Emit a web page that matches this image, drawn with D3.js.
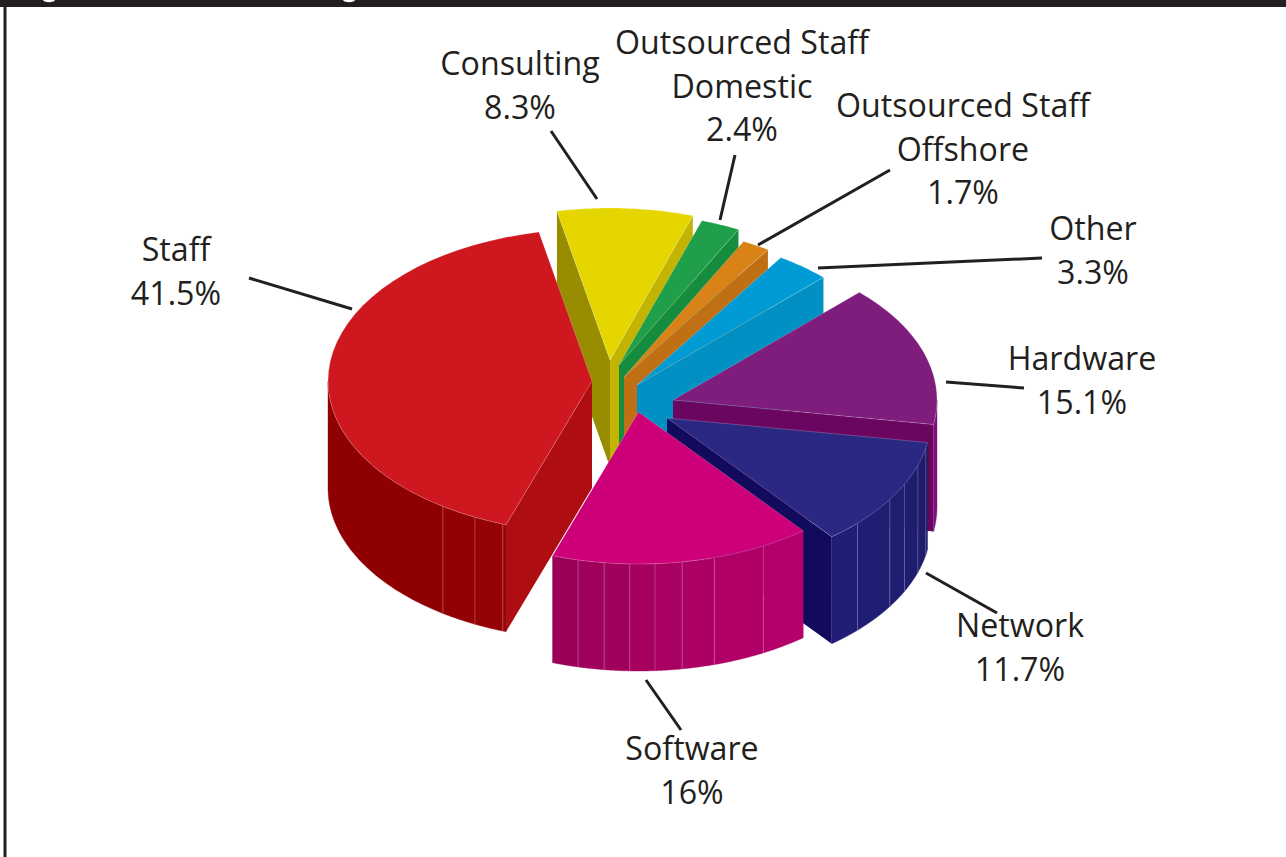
<!DOCTYPE html>
<html><head><meta charset="utf-8">
<script src="https://cdn.jsdelivr.net/npm/d3@7"></script>
<style>html,body{margin:0;padding:0;background:#fff;overflow:hidden}svg{display:block}</style>
</head><body><div id="chart"></div>
<script>
// Data
const categories = ["Staff","Consulting","Outsourced Staff Domestic","Outsourced Staff Offshore","Other","Hardware","Network","Software"];
const values = [41.5,8.3,2.4,1.7,3.3,15.1,11.7,16];
const valueLabels = ["41.5%","8.3%","2.4%","1.7%","3.3%","15.1%","11.7%","16%"];
const labelLines = [["Staff"],["Consulting"],["Outsourced Staff","Domestic"],["Outsourced Staff","Offshore"],["Other"],["Hardware"],["Network"],["Software"]];

// Styles and layout
const topColors = ["#ce171e","#e5d600","#1f9f49","#d88218","#009bd4","#7f1d7d","#2b2883","#cd007a"];
const startWall = ["#ae0d12","#988d00","#168d3e","#c07014","#0090c4","#6a0560","#120a5c","#a3005f"];
const endWall   = ["#ae0d12","#c2b400","#168d3e","#c07014","#0090c4","#6a0560","#120a5c","#a3005f"];
const outerFrom = ["#980508","#988d00","#168d3e","#c07014","#0090c4","#7f1080","#1d1b6b","#b4006b"];
const outerTo   = ["#8f0002","#988d00","#168d3e","#c07014","#0090c4","#7f1080","#211f75","#9b0058"];
const facetFractions = [[0.005,0.049,0.103],[],[],[],[],[],[0.05,0.21,0.395,0.55,0.82],[0.18,0.38,0.505,0.608,0.703,0.80,0.90]];
const tipX = [592,610,619,624,637,673,667,638.5];
const tipY = [381,360,365,377,385,400,418,412];
const labelAnchors = [[176,261],[520,75],[742,54],[963,117],[1093,240],[1082,370],[1020,637],[692,760]];
const leaders = [[249,278,352,309],[551,131,597,199],[735,155,720,220],[890,170,758,245],[1042,258,818,268],[1024,388,946,382],[997,613,926,573],[681,730,646,680]];
const bandBumpsX = [49,349];
const rx = 264, ry = 152, depth = 107, startDeg = 199;
const ink = "#231f20";

const W = 1286, H = 857;
const svg = d3.select("#chart").append("svg").attr("width",W).attr("height",H).style("background","#fff");

// frame
svg.append("rect").attr("x",0).attr("y",0).attr("width",W).attr("height",7).attr("fill",ink);
svg.append("rect").attr("x",3.5).attr("y",0).attr("width",3).attr("height",H).attr("fill",ink);
svg.append("g").selectAll("ellipse").data(bandBumpsX).join("ellipse")
  .attr("cx",d=>d).attr("cy",0).attr("rx",6).attr("ry",2.2).attr("fill","#fff");

const rad = d => d*Math.PI/180;
const arcs = d3.pie().sort(null).value(d=>d)
  .startAngle(rad(startDeg)).endAngle(rad(startDeg+360))(values);

const order = [1,2,3,4,0,5,6,7];
const line = d3.line();
const edgeStroke = "rgba(255,255,255,0.35)";

order.forEach(i=>{
  const a = arcs[i], cx = tipX[i], cy = tipY[i];
  const g = svg.append("g").attr("class","slice");
  const P = t => [cx+rx*Math.sin(t), cy-ry*Math.cos(t)];
  const sample = (t0,t1) => d3.range(0,41).map(k=>P(t0+(t1-t0)*k/40));
  const down = p => [p[0],p[1]+depth];

  // radial walls facing the viewer
  const s = Math.sin(a.startAngle), e = Math.sin(a.endAngle);
  if (e>0) {
    const p = P(a.endAngle);
    g.append("path").attr("d",line([[cx,cy],p,down(p),[cx,cy+depth]])+"Z").attr("fill",endWall[i]);
  }
  if (s<0) {
    const p = P(a.startAngle);
    g.append("path").attr("d",line([[cx,cy],p,down(p),[cx,cy+depth]])+"Z").attr("fill",startWall[i]);
  }

  // outer wall, front half only, drawn as facets
  const wrap = a.startAngle>=rad(360) ? 2*Math.PI : 0;
  const lo2 = a.startAngle-wrap, hi2 = a.endAngle-wrap;
  const vLo = Math.max(lo2, rad(90)), vHi = Math.min(hi2, rad(270));
  if (vHi>vLo) {
    const span = hi2-lo2;
    const stops = [vLo, ...facetFractions[i].map(f=>lo2+f*span), vHi];
    const col = d3.interpolateRgb(outerFrom[i],outerTo[i]);
    for (let k=0;k<stops.length-1;k++){
      const pts = sample(stops[k],stops[k+1]);
      const c = col(stops.length>2 ? k/(stops.length-2) : 0);
      g.append("path").attr("d",line([...pts,...pts.slice().reverse().map(down)])+"Z")
        .attr("fill",c).attr("stroke",c).attr("stroke-width",0.4);
      if (k>0) {
        const p = pts[0];
        g.append("path").attr("d",line([p,down(p)])).attr("stroke","rgba(255,255,255,0.3)").attr("stroke-width",0.8).attr("fill","none");
      }
    }
  }

  // top face
  g.append("path").attr("d",line([[cx,cy],...sample(a.startAngle,a.endAngle)])+"Z")
    .attr("fill",topColors[i]).attr("stroke",edgeStroke).attr("stroke-width",0.6);
});

// leaders
svg.append("g").selectAll("line").data(leaders).join("line")
  .attr("x1",d=>d[0]).attr("y1",d=>d[1]).attr("x2",d=>d[2]).attr("y2",d=>d[3])
  .attr("stroke",ink).attr("stroke-width",3);

// labels
const lab = svg.append("g").attr("font-family","'Open Sans',sans-serif").attr("font-size",32.2).attr("fill",ink).attr("text-anchor","middle");
categories.forEach((c,i)=>{
  const rows = [...labelLines[i], valueLabels[i]];
  const t = lab.append("text");
  rows.forEach((r,k)=>t.append("tspan").attr("x",labelAnchors[i][0]).attr("y",labelAnchors[i][1]+k*43.7).text(r));
});
</script></body></html>
